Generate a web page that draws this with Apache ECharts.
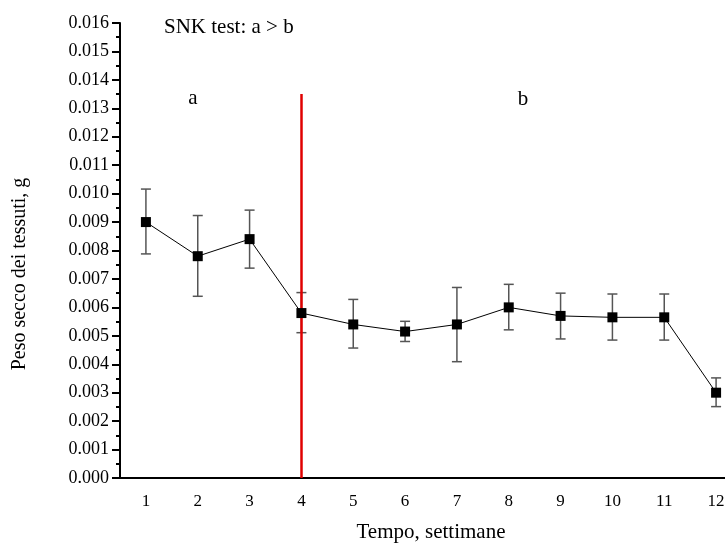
<!DOCTYPE html>
<html>
<head>
<meta charset="utf-8">
<script src="https://cdn.jsdelivr.net/npm/echarts@6/dist/echarts.min.js"></script>
<style>html,body{margin:0;padding:0;background:#fff}#c{width:725px;height:544px}</style>
</head>
<body>
<div id="c"></div>
<script>
const weeks = ['1','2','3','4','5','6','7','8','9','10','11','12'];
const meanVals = [0.0090, 0.0078, 0.0084, 0.0058, 0.0054, 0.00515, 0.0054, 0.0060, 0.0057, 0.00565, 0.00565, 0.0030];
const errHigh = [0.01016, 0.00923, 0.00942, 0.00652, 0.00628, 0.00551, 0.00670, 0.00681, 0.00650, 0.00647, 0.00647, 0.00352];
const errLow  = [0.00788, 0.00639, 0.00738, 0.00511, 0.00457, 0.00480, 0.00409, 0.00521, 0.00489, 0.00485, 0.00485, 0.00251];
const dividerWeek = '4';
const dividerTop = 0.0135;

const FONT = '"Liberation Serif", "Times New Roman", serif';
const chart = echarts.init(document.getElementById('c'), null, {renderer:'canvas'});

const errData = weeks.map((w,i)=>[i, errLow[i], errHigh[i]]);

chart.setOption({
  animation:false,
  backgroundColor:'#fff',
  grid:{left:120, right:-17, top:23, bottom:66, containLabel:false, outerBoundsMode:'none'},
  xAxis:{
    type:'category', data:weeks, boundaryGap:true,
    name:'Tempo, settimane', nameLocation:'middle', nameGap:44,
    nameTextStyle:{fontFamily:FONT, fontSize:21, color:'#000'},
    axisLine:{lineStyle:{color:'#000', width:2}},
    axisTick:{alignWithLabel:true, length:8, lineStyle:{color:'#000', width:2}},
    axisLabel:{fontFamily:FONT, fontSize:17, color:'#000', margin:15},
    splitLine:{show:false}
  },
  yAxis:{
    type:'value', min:0, max:0.016, interval:0.001,
    axisLine:{show:true, lineStyle:{color:'#000', width:2}},
    axisTick:{show:true, length:8, lineStyle:{color:'#000', width:2}},
    minorTick:{show:true, splitNumber:2, length:4, lineStyle:{color:'#000', width:2}},
    axisLabel:{fontFamily:FONT, fontSize:18, color:'#000', margin:11, formatter:v=>v.toFixed(3)},
    splitLine:{show:false}
  },
  graphic:[
    {type:'text', x:20, y:274, rotation:Math.PI/2,
     style:{text:'Peso secco dei tessuti, g', font:'20px '+FONT, fill:'#000', textAlign:'center', textVerticalAlign:'middle'}},
    {type:'text', x:164, y:27,
     style:{text:'SNK test: a > b', font:'21px '+FONT, fill:'#000', textAlign:'left', textVerticalAlign:'middle'}},
    {type:'text', x:193, y:98,
     style:{text:'a', font:'21px '+FONT, fill:'#000', textAlign:'center', textVerticalAlign:'middle'}},
    {type:'text', x:523, y:99,
     style:{text:'b', font:'21px '+FONT, fill:'#000', textAlign:'center', textVerticalAlign:'middle'}}
  ],
  series:[
    {
      type:'custom',
      data:errData,
      z:2,
      renderItem:function(params, api){
        const x = api.value(0);
        const lo = api.coord([x, api.value(1)]);
        const hi = api.coord([x, api.value(2)]);
        const hw = 5;
        const st = {stroke:'#555', lineWidth:1.5};
        return {type:'group', children:[
          {type:'line', shape:{x1:lo[0], y1:lo[1], x2:hi[0], y2:hi[1]}, style:st},
          {type:'line', shape:{x1:lo[0]-hw, y1:lo[1], x2:lo[0]+hw, y2:lo[1]}, style:st},
          {type:'line', shape:{x1:hi[0]-hw, y1:hi[1], x2:hi[0]+hw, y2:hi[1]}, style:st}
        ]};
      }
    },
    {
      type:'line',
      data:meanVals,
      z:4,
      symbol:'rect', symbolSize:10,
      itemStyle:{color:'#000'},
      lineStyle:{color:'#000', width:1},
      markLine:{
        silent:true, symbol:'none', z:3,
        lineStyle:{color:'#e00000', width:2.5, type:'solid'},
        label:{show:false},
        data:[[{coord:[dividerWeek, 0]}, {coord:[dividerWeek, dividerTop]}]]
      }
    }
  ]
});
</script>
</body>
</html>
